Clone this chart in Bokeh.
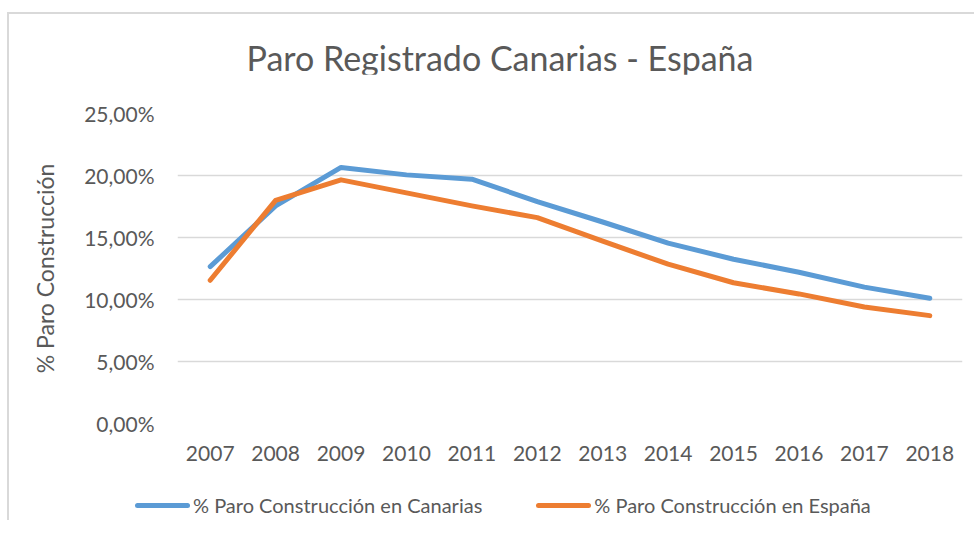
from bokeh.plotting import figure
from bokeh.layouts import column
from bokeh.models import (FactorRange, Range1d, Div,
                          CustomJSTickFormatter, FixedTicker)
from bokeh.embed import file_html
from bokeh.resources import INLINE

years = ["2007", "2008", "2009", "2010", "2011", "2012",
         "2013", "2014", "2015", "2016", "2017", "2018"]
canarias = [12.65, 17.55, 20.65, 20.05, 19.7, 17.9,
            16.25, 14.55, 13.25, 12.2, 11.0, 10.1]
espana = [11.55, 18.0, 19.65, 18.6, 17.55, 16.6,
          14.7, 12.85, 11.35, 10.45, 9.4, 8.7]
y_ticks = [0, 5, 10, 15, 20, 25]

title_text = "Paro Registrado Canarias - España"
y_title = "% Paro Construcción"
name_can = "% Paro Construcción en Canarias"
name_esp = "% Paro Construcción en España"

FONT = "Lato"
GRAY = "#595959"
BLUE = "#5B9BD5"
ORANGE = "#ED7D31"

# title strip
title_div = Div(
    text=(f'<div style="position:relative;width:965px;height:60px;">'
          f'<span style="position:absolute;left:491px;top:27px;'
          f'transform:translateX(-50%);white-space:nowrap;'
          f'font-family:Lato;font-size:34px;line-height:34px;'
          f'color:{GRAY}">{title_text}</span></div>'),
    width=965, height=60, styles={"margin": "0", "padding": "0"})

p = figure(width=965, height=410, output_backend="svg", toolbar_location=None,
           x_range=FactorRange(*years, range_padding=0),
           y_range=Range1d(0, 25),
           min_border_left=168, min_border_right=12,
           min_border_top=39, min_border_bottom=61,
           background_fill_color="white", border_fill_color="white")
p.outline_line_color = None

p.xgrid.grid_line_color = None
p.ygrid.grid_line_color = "#d9d9d9"
p.ygrid.grid_line_width = 1.5

for ax in (p.xaxis[0], p.yaxis[0]):
    ax.axis_line_color = None
    ax.major_tick_line_color = None
    ax.minor_tick_line_color = None
    ax.major_label_text_font = FONT
    ax.major_label_text_color = GRAY
    ax.major_label_text_font_size = "21px"

p.yaxis.ticker = FixedTicker(ticks=y_ticks)
p.yaxis.formatter = CustomJSTickFormatter(
    code="return tick.toFixed(2).replace('.', ',') + '%';")
p.yaxis.major_label_standoff = 17
p.xaxis.major_label_standoff = 16
p.yaxis.axis_label = y_title
p.yaxis.axis_label_text_font = FONT
p.yaxis.axis_label_text_font_style = "normal"
p.yaxis.axis_label_text_color = GRAY
p.yaxis.axis_label_text_font_size = "23px"
p.yaxis.axis_label_standoff = 22

p.line(years, canarias, line_color=BLUE, line_width=5,
       line_cap="round", line_join="round")
p.line(years, espana, line_color=ORANGE, line_width=5,
       line_cap="round", line_join="round")


def swatch(color, gap):
    return (f'<span style="display:inline-block;width:55px;height:5px;'
            f'border-radius:3px;background:{color};margin-left:{gap}px;'
            f'margin-right:3px"></span>')


legend_html = (
    f'<div style="display:flex;align-items:center;box-sizing:border-box;'
    f'width:965px;height:36px;padding-top:6px;padding-left:126px;'
    f'font-family:Lato;font-size:20px;color:{GRAY};white-space:nowrap">'
    f'{swatch(BLUE, 0)}<span>{name_can}</span>'
    f'{swatch(ORANGE, 54)}<span>{name_esp}</span></div>'
)
legend_div = Div(text=legend_html, width=965, height=36,
                 styles={"margin": "0", "padding": "0"})

layout = column(title_div, p, legend_div, spacing=0)
layout.styles = {"border-top": "2px solid #d9d9d9",
                 "border-left": "2px solid #d9d9d9",
                 "margin-top": "12px", "margin-left": "7px"}

open("out.html", "w").write(file_html(layout, INLINE))
